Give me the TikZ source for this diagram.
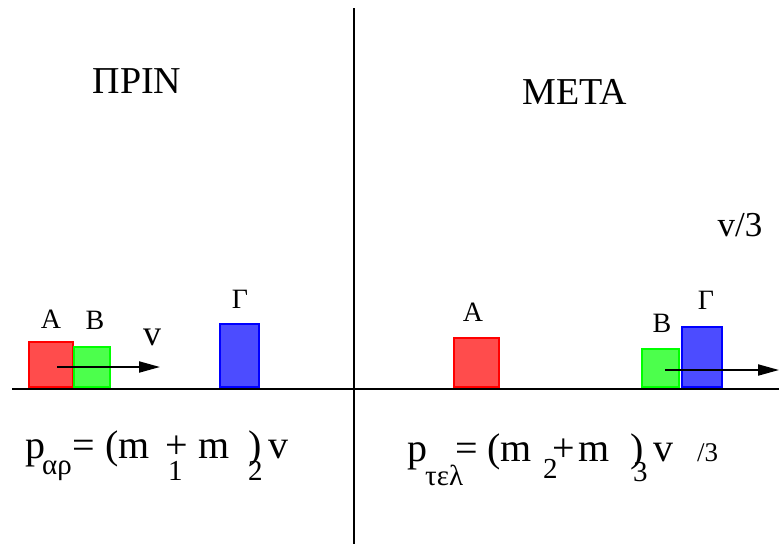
\documentclass[tikz,border=0pt]{standalone}
\usepackage{fontspec}
\setmainfont{Liberation Serif}
\usetikzlibrary{arrows.meta}

\begin{document}
\begin{tikzpicture}[x=1pt, y=-1pt, >={Triangle[length=21pt,width=11pt]},
	big/.style={font=\fontsize{40}{44}\selectfont, inner sep=0pt, anchor=base west},
	sub/.style={font=\fontsize{29}{32}\selectfont, inner sep=0pt, anchor=base west},
	lbl/.style={font=\fontsize{28}{30}\selectfont, inner sep=0pt},
	blk/.style={draw=#1, fill=#1!70, line width=2pt, anchor=south west, inner sep=0pt}]
	\useasboundingbox (0,0) rectangle (779,544);
	\draw[line width=2pt] (354,8) -- (354,544);
	\draw[line width=2pt] (12,389) -- (779,389);
	% blocks
	\foreach \n/\c/\x/\w/\h in {redL/red/28/44/45, greenL/green/73/36/40, blueL/blue/219/39/63, redR/red/453/45/49, greenR/green/641/37/38, blueR/blue/681/40/60} {
		\node[blk=\c, minimum width=\w pt, minimum height=\h pt] (\n) at (\x,388) {};
	}
	\foreach \n/\t/\x/\y in {aL/A/51/319, bL/B/95/320, gL/Γ/240/299, aR/A/473/312, bR/B/662/323, gR/Γ/706/300} {
		\node[lbl] (\n) at (\x,\y) {\t};
	}
	\node[font=\fontsize{38}{40}\selectfont] (prin) at (137,81) {ΠΡΙΝ};
	\node[font=\fontsize{38}{40}\selectfont] (meta) at (575,92) {ΜΕΤΑ};
	\node[font=\fontsize{35}{40}\selectfont] (v3) at (740,225) {v/3};
	\node[font=\fontsize{36}{40}\selectfont] (vL) at (152,337) {v};
	% velocities
	\coordinate (vL0) at (57,367); \coordinate (vL1) at (160,367);
	\coordinate (vR0) at (665,370); \coordinate (vR1) at (779,370);
	\draw[->, line width=2pt] (vL0) -- (vL1);
	\draw[->, line width=2pt] (vR0) -- (vR1);
	% momentum before
	\foreach \n/\t/\x in {p1/p/25, e1/=/72, m1/(m/105, s1/+/165, m2/m/198, c1/)/248, w1/v/268} {
		\node[big] (\n) at (\x,458) {\t};
	}
	\node[sub] (ar) at (42,474) {αρ};
	\node[sub] (i1) at (168,480) {1};
	\node[sub] (i2) at (248,480) {2};
	% momentum after
	\foreach \n/\t/\x in {p2/p/407, e2/=/455, m3/(m/487, s2/+/552, m4/m/578, c2/)/630, w2/v/653} {
		\node[big] (\n) at (\x,461) {\t};
	}
	\node[sub] (tel) at (425,485) {τελ};
	\node[sub] (i3) at (543,478) {2};
	\node[sub] (i4) at (633,481) {3};
	\node[sub, font=\fontsize{27}{30}\selectfont] (d3) at (697,461) {/3};
\end{tikzpicture}
\end{document}
